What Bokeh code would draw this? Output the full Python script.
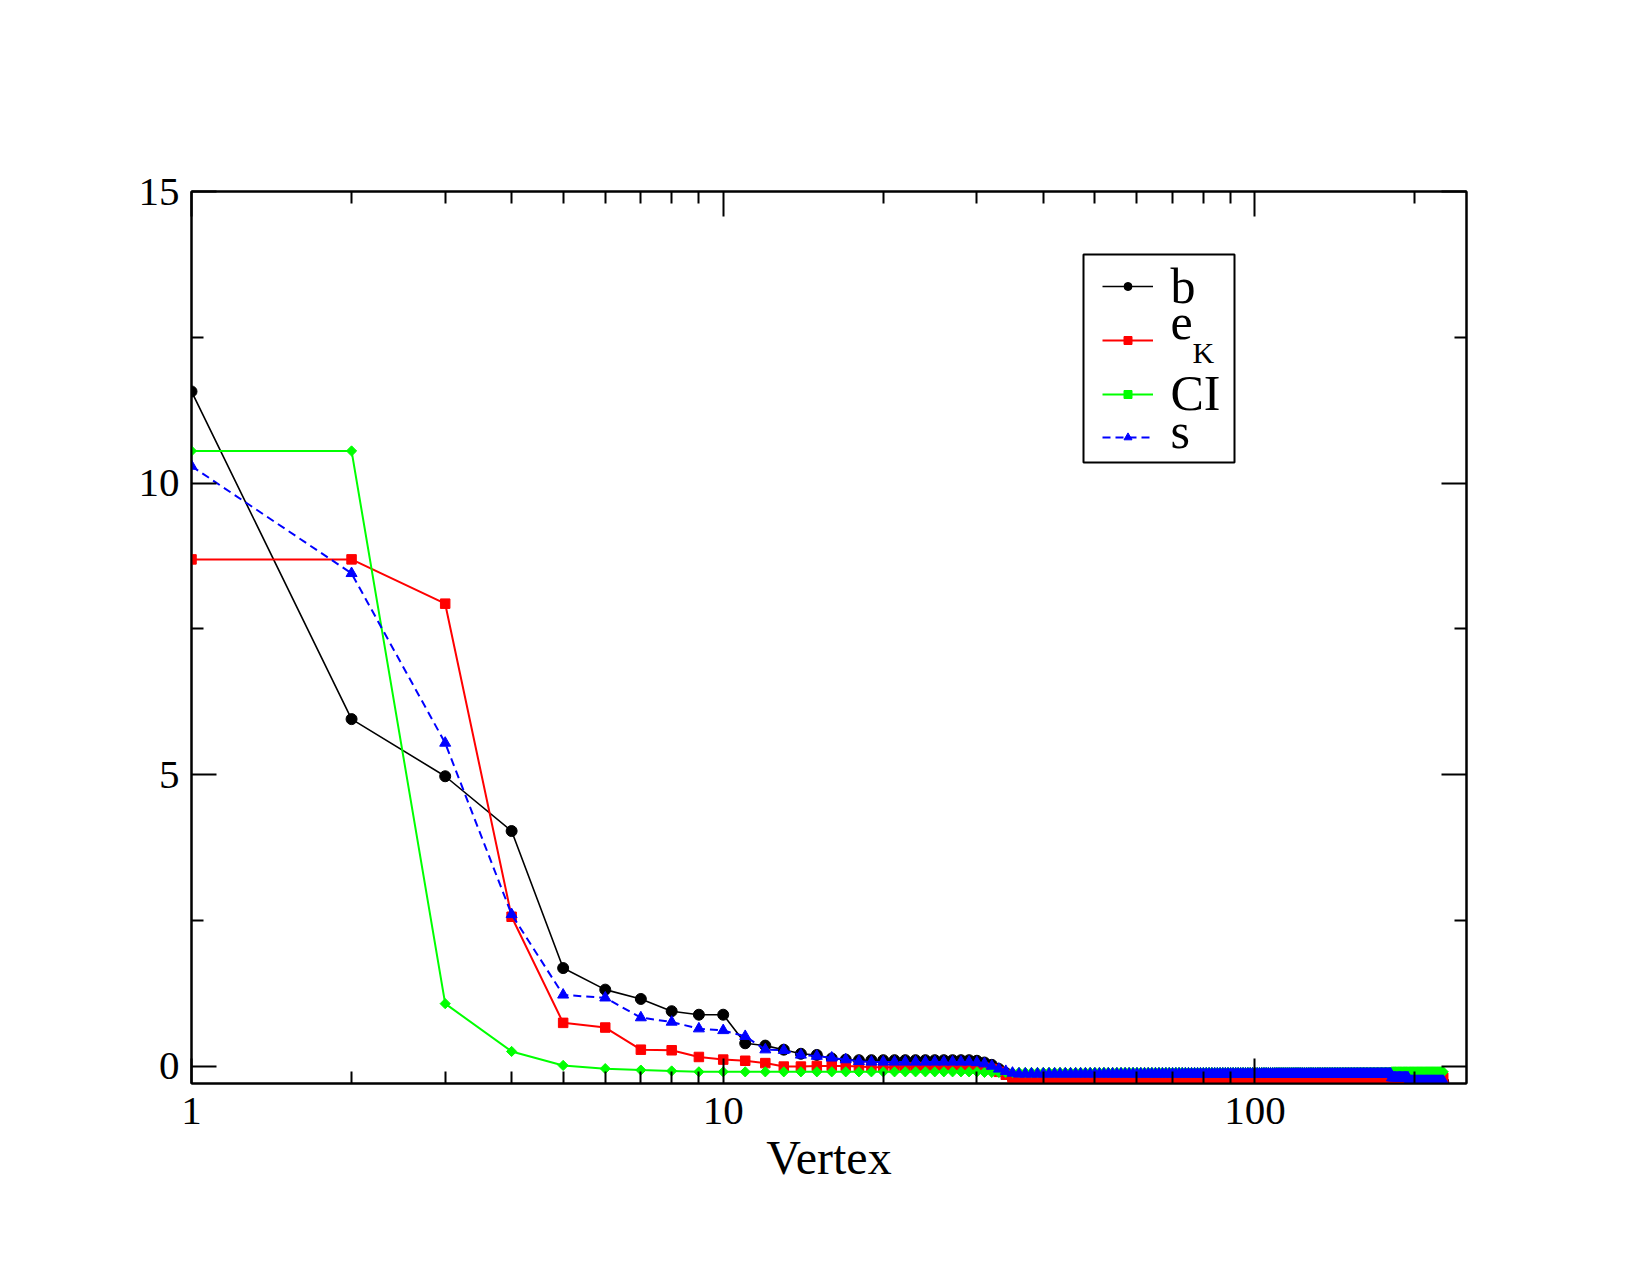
from bokeh.plotting import figure
from bokeh.models import (Range1d, LinearAxis, LogAxis, FixedTicker, Legend, LegendItem,
                          Label, NumeralTickFormatter, CustomJSTickFormatter, BoxAnnotation)
from bokeh.embed import file_html
from bokeh.resources import INLINE
import math

vertex = list(range(1, 227))

b_vals = [
    11.57, 5.95, 4.97, 4.03, 1.68, 1.31, 1.15, 0.94, 0.88, 0.88,
    0.39, 0.35, 0.28, 0.21, 0.19, 0.13, 0.11, 0.10, 0.10, 0.10,
    0.10, 0.10, 0.10, 0.10, 0.10, 0.10, 0.10, 0.10, 0.10, 0.09,
    0.06, 0.02, -0.05, -0.12, -0.20, -0.25, -0.26, -0.27, -0.27, -0.27,
    -0.27, -0.27, -0.27, -0.27, -0.27, -0.27, -0.27, -0.27, -0.27, -0.27,
    -0.27, -0.27, -0.27, -0.27, -0.27, -0.27, -0.27, -0.27, -0.27, -0.27,
    -0.27, -0.27, -0.27, -0.27, -0.27, -0.27, -0.27, -0.27, -0.27, -0.27,
    -0.27, -0.27, -0.27, -0.27, -0.27, -0.27, -0.27, -0.27, -0.27, -0.27,
    -0.27, -0.27, -0.27, -0.27, -0.27, -0.27, -0.27, -0.27, -0.27, -0.27,
    -0.27, -0.27, -0.27, -0.27, -0.27, -0.27, -0.27, -0.27, -0.27, -0.27,
    -0.27, -0.27, -0.27, -0.27, -0.27, -0.27, -0.27, -0.27, -0.27, -0.27,
    -0.27, -0.27, -0.27, -0.27, -0.27, -0.27, -0.27, -0.27, -0.27, -0.27,
    -0.27, -0.27, -0.27, -0.27, -0.27, -0.27, -0.27, -0.27, -0.27, -0.27,
    -0.27, -0.27, -0.27, -0.27, -0.27, -0.27, -0.27, -0.27, -0.27, -0.27,
    -0.27, -0.27, -0.27, -0.27, -0.27, -0.27, -0.27, -0.27, -0.27, -0.27,
    -0.27, -0.27, -0.27, -0.27, -0.27, -0.27, -0.27, -0.27, -0.27, -0.27,
    -0.27, -0.27, -0.27, -0.27, -0.27, -0.27, -0.27, -0.27, -0.27, -0.27,
    -0.27, -0.27, -0.27, -0.27, -0.27, -0.27, -0.27, -0.27, -0.27, -0.27,
    -0.27, -0.27, -0.27, -0.27, -0.27, -0.27, -0.27, -0.27, -0.27, -0.27,
    -0.27, -0.27, -0.27, -0.27, -0.27, -0.27, -0.27, -0.27, -0.27, -0.27,
    -0.27, -0.27, -0.27, -0.27, -0.27, -0.27, -0.27, -0.27, -0.27, -0.27,
    -0.27, -0.27, -0.27, -0.27, -0.27, -0.27, -0.27, -0.27, -0.27, -0.27,
    -0.27, -0.27, -0.27, -0.27, -0.27, -0.27,
]

ek_vals = [
    8.69, 8.69, 7.93, 2.56, 0.74, 0.66, 0.28, 0.27, 0.155, 0.11,
    0.09, 0.05, -0.01, -0.01, 0.00, 0.00, 0.00, -0.01, -0.02, -0.02,
    -0.02, -0.02, -0.02, -0.02, -0.02, -0.02, -0.02, -0.02, -0.02, -0.02,
    -0.03, -0.05, -0.10, -0.15, -0.20, -0.22, -0.235, -0.235, -0.235, -0.235,
    -0.235, -0.235, -0.235, -0.235, -0.235, -0.235, -0.235, -0.235, -0.235, -0.235,
    -0.235, -0.235, -0.235, -0.235, -0.235, -0.235, -0.235, -0.235, -0.235, -0.235,
    -0.235, -0.235, -0.235, -0.235, -0.235, -0.235, -0.235, -0.235, -0.235, -0.235,
    -0.235, -0.235, -0.235, -0.235, -0.235, -0.235, -0.235, -0.235, -0.235, -0.235,
    -0.235, -0.235, -0.235, -0.235, -0.235, -0.235, -0.235, -0.235, -0.235, -0.235,
    -0.235, -0.235, -0.235, -0.235, -0.235, -0.235, -0.235, -0.235, -0.235, -0.235,
    -0.235, -0.235, -0.235, -0.235, -0.235, -0.235, -0.235, -0.235, -0.235, -0.235,
    -0.235, -0.235, -0.235, -0.235, -0.235, -0.235, -0.235, -0.235, -0.235, -0.235,
    -0.235, -0.235, -0.235, -0.235, -0.235, -0.235, -0.235, -0.235, -0.235, -0.235,
    -0.235, -0.235, -0.235, -0.235, -0.235, -0.235, -0.235, -0.235, -0.235, -0.235,
    -0.235, -0.235, -0.235, -0.235, -0.235, -0.235, -0.235, -0.235, -0.235, -0.235,
    -0.235, -0.235, -0.235, -0.235, -0.235, -0.235, -0.235, -0.235, -0.235, -0.235,
    -0.235, -0.235, -0.235, -0.235, -0.235, -0.235, -0.235, -0.235, -0.235, -0.235,
    -0.235, -0.235, -0.235, -0.235, -0.235, -0.235, -0.235, -0.235, -0.235, -0.235,
    -0.235, -0.235, -0.235, -0.235, -0.235, -0.235, -0.235, -0.235, -0.235, -0.235,
    -0.235, -0.235, -0.235, -0.235, -0.235, -0.235, -0.235, -0.235, -0.235, -0.235,
    -0.235, -0.235, -0.235, -0.235, -0.235, -0.235, -0.235, -0.235, -0.235, -0.235,
    -0.235, -0.235, -0.235, -0.235, -0.235, -0.235, -0.235, -0.235, -0.235, -0.235,
    -0.235, -0.235, -0.235, -0.235, -0.235, -0.20,
]

ci_vals = [
    10.55, 10.55, 1.07, 0.25, 0.01, -0.045, -0.07, -0.085, -0.10, -0.10,
    -0.10, -0.10, -0.10, -0.10, -0.10, -0.10, -0.10, -0.10, -0.10, -0.10,
    -0.10, -0.10, -0.10, -0.10, -0.10, -0.10, -0.10, -0.10, -0.10, -0.10,
    -0.11, -0.11, -0.11, -0.11, -0.11, -0.11, -0.11, -0.11, -0.11, -0.11,
    -0.11, -0.11, -0.11, -0.11, -0.11, -0.11, -0.11, -0.11, -0.11, -0.11,
    -0.11, -0.11, -0.11, -0.11, -0.11, -0.11, -0.11, -0.11, -0.11, -0.11,
    -0.11, -0.11, -0.11, -0.11, -0.11, -0.11, -0.11, -0.11, -0.11, -0.11,
    -0.11, -0.11, -0.11, -0.11, -0.11, -0.11, -0.11, -0.11, -0.11, -0.11,
    -0.11, -0.11, -0.11, -0.11, -0.11, -0.11, -0.11, -0.11, -0.11, -0.11,
    -0.11, -0.11, -0.11, -0.11, -0.11, -0.11, -0.11, -0.11, -0.11, -0.11,
    -0.11, -0.11, -0.11, -0.11, -0.11, -0.11, -0.11, -0.11, -0.11, -0.11,
    -0.11, -0.11, -0.11, -0.11, -0.11, -0.11, -0.11, -0.11, -0.11, -0.11,
    -0.11, -0.11, -0.11, -0.11, -0.11, -0.11, -0.11, -0.11, -0.11, -0.11,
    -0.11, -0.11, -0.11, -0.11, -0.11, -0.11, -0.11, -0.11, -0.11, -0.11,
    -0.11, -0.11, -0.11, -0.11, -0.11, -0.11, -0.11, -0.11, -0.11, -0.11,
    -0.11, -0.11, -0.11, -0.11, -0.11, -0.11, -0.11, -0.11, -0.11, -0.11,
    -0.11, -0.11, -0.11, -0.11, -0.11, -0.11, -0.11, -0.11, -0.11, -0.11,
    -0.11, -0.11, -0.11, -0.11, -0.11, -0.11, -0.11, -0.11, -0.11, -0.11,
    -0.10, -0.10, -0.10, -0.10, -0.10, -0.10, -0.10, -0.10, -0.10, -0.10,
    -0.10, -0.10, -0.10, -0.10, -0.10, -0.10, -0.10, -0.10, -0.10, -0.10,
    -0.10, -0.10, -0.10, -0.10, -0.10, -0.10, -0.10, -0.10, -0.10, -0.10,
    -0.10, -0.10, -0.10, -0.10, -0.10, -0.10, -0.10, -0.10, -0.10, -0.10,
    -0.10, -0.10, -0.10, -0.10, -0.10, -0.10,
]

s_vals = [
    10.29, 8.45, 5.54, 2.60, 1.22, 1.17, 0.83, 0.755, 0.64, 0.61,
    0.51, 0.28, 0.27, 0.19, 0.17, 0.14, 0.11, 0.08, 0.07, 0.07,
    0.07, 0.07, 0.07, 0.07, 0.07, 0.07, 0.07, 0.07, 0.07, 0.06,
    0.04, 0.00, -0.05, -0.09, -0.12, -0.135, -0.135, -0.135, -0.135, -0.135,
    -0.135, -0.135, -0.135, -0.135, -0.135, -0.135, -0.135, -0.135, -0.135, -0.135,
    -0.135, -0.135, -0.135, -0.135, -0.135, -0.135, -0.135, -0.135, -0.135, -0.135,
    -0.135, -0.135, -0.135, -0.135, -0.135, -0.135, -0.135, -0.135, -0.135, -0.135,
    -0.135, -0.135, -0.135, -0.135, -0.135, -0.135, -0.135, -0.135, -0.135, -0.135,
    -0.135, -0.135, -0.135, -0.135, -0.135, -0.135, -0.135, -0.135, -0.135, -0.135,
    -0.135, -0.135, -0.135, -0.135, -0.135, -0.135, -0.135, -0.135, -0.135, -0.135,
    -0.135, -0.135, -0.135, -0.135, -0.135, -0.135, -0.135, -0.135, -0.135, -0.135,
    -0.135, -0.135, -0.135, -0.135, -0.135, -0.135, -0.135, -0.135, -0.135, -0.135,
    -0.135, -0.135, -0.135, -0.135, -0.135, -0.135, -0.135, -0.135, -0.135, -0.135,
    -0.135, -0.135, -0.135, -0.135, -0.135, -0.135, -0.135, -0.135, -0.135, -0.135,
    -0.135, -0.135, -0.135, -0.135, -0.135, -0.135, -0.135, -0.135, -0.135, -0.135,
    -0.135, -0.135, -0.135, -0.135, -0.135, -0.135, -0.135, -0.135, -0.135, -0.135,
    -0.135, -0.135, -0.135, -0.135, -0.135, -0.135, -0.135, -0.135, -0.135, -0.135,
    -0.135, -0.135, -0.135, -0.135, -0.135, -0.135, -0.135, -0.135, -0.135, -0.135,
    -0.20, -0.20, -0.20, -0.20, -0.20, -0.20, -0.20, -0.20, -0.20, -0.20,
    -0.20, -0.20, -0.20, -0.20, -0.26, -0.26, -0.26, -0.26, -0.26, -0.26,
    -0.26, -0.26, -0.26, -0.26, -0.26, -0.26, -0.26, -0.26, -0.26, -0.26,
    -0.26, -0.26, -0.26, -0.26, -0.26, -0.26, -0.26, -0.26, -0.26, -0.26,
    -0.26, -0.26, -0.26, -0.26, -0.26, -0.26,
]

for arr in (b_vals, ek_vals, ci_vals, s_vals):
    assert len(arr) == len(vertex), len(arr)

series_names = ["b", "e", "CI", "s"]
subscript_e = "K"

x_major = [1, 10, 100]
x_minor = [2, 3, 4, 5, 6, 7, 8, 9, 20, 30, 40, 50, 60, 70, 80, 90, 200]
y_major = [0, 5, 10, 15]
y_minor = [2.5, 7.5, 12.5]

SERIF = "Liberation Serif"

p = figure(width=1650, height=1275, x_axis_type="log",
           x_range=Range1d(1, 250), y_range=Range1d(-0.3, 15),
           output_backend="svg", toolbar_location=None,
           min_border_left=191, min_border_right=184,
           min_border_top=191, min_border_bottom=192)
p.background_fill_color = "white"
p.border_fill_color = "white"
p.outline_line_color = "black"
p.outline_line_width = 2
p.xgrid.visible = False
p.ygrid.visible = False

bottom_axis = p.below[0]
left_axis = p.left[0]
top_axis = LogAxis()
right_axis = LinearAxis()
p.add_layout(top_axis, "above")
p.add_layout(right_axis, "right")

blank = CustomJSTickFormatter(code="return '';")

for ax, ticks, minors in ((bottom_axis, x_major, x_minor), (top_axis, x_major, x_minor),
                          (left_axis, y_major, y_minor), (right_axis, y_major, y_minor)):
    ax.ticker = FixedTicker(ticks=ticks, minor_ticks=minors)
    ax.major_tick_in = 25
    ax.major_tick_out = 0
    ax.minor_tick_in = 12
    ax.minor_tick_out = 0
    ax.axis_line_width = 2
    ax.major_tick_line_width = 2
    ax.minor_tick_line_width = 2
    ax.axis_line_color = "black"
    ax.major_tick_line_color = "black"
    ax.minor_tick_line_color = "black"
    ax.major_label_text_font = SERIF
    ax.major_label_text_font_size = "41px"
    ax.major_label_text_color = "black"

top_axis.formatter = blank
right_axis.formatter = blank
bottom_axis.formatter = NumeralTickFormatter(format="0")
left_axis.formatter = NumeralTickFormatter(format="0")
bottom_axis.major_label_standoff = 14
left_axis.major_label_standoff = 12

bottom_axis.axis_label = "Vertex"
bottom_axis.axis_label_text_font = SERIF
bottom_axis.axis_label_text_font_size = "48px"
bottom_axis.axis_label_text_font_style = "normal"
bottom_axis.axis_label_text_color = "black"
bottom_axis.axis_label_standoff = 4

# series
b_line = p.line(vertex, b_vals, line_color="black", line_width=1.6)
b_pts = p.scatter(vertex, b_vals, marker="circle", size=11, fill_color="black", line_color="black")

ek_line = p.line(vertex, ek_vals, line_color="#ff0000", line_width=2)
ek_pts = p.scatter(vertex, ek_vals, marker="square", size=9.5, fill_color="#ff0000", line_color="#ff0000")

ci_line = p.line(vertex, ci_vals, line_color="#00ff00", line_width=2)
ci_pts = p.scatter(vertex, ci_vals, marker="square", angle=math.pi / 4, size=7.2,
                   fill_color="#00ff00", line_color="#00ff00")

s_line = p.line(vertex, s_vals, line_color="#0000ff", line_width=2, line_dash="8 5")
s_pts = p.scatter(vertex, s_vals, marker="triangle", size=11, fill_color="#0000ff", line_color="#0000ff")

# legend frame (frame-relative screen units, y measured from the frame bottom)
legend_box = BoxAnnotation(left=892, right=1043, top=829, bottom=621,
                           left_units="screen", right_units="screen",
                           top_units="screen", bottom_units="screen",
                           fill_color="white", fill_alpha=1.0,
                           line_color="black", line_width=2, line_alpha=1.0)
p.add_layout(legend_box)


def swatch_legend(items, loc, row_h):
    lg = Legend(items=items, location=loc)
    lg.margin = 0
    lg.padding = 0
    lg.spacing = 0
    lg.glyph_width = 51
    lg.glyph_height = 20
    lg.label_height = row_h
    lg.label_width = 1
    lg.label_standoff = 0
    lg.label_text_font = SERIF
    lg.label_text_font_size = "4px"
    lg.border_line_color = None
    lg.background_fill_alpha = 0.0
    return lg


# legend swatches (line + marker); the legend texts are placed as labels below
p.add_layout(swatch_legend([
    LegendItem(label=" ", renderers=[b_line, b_pts]),
    LegendItem(label=" ", renderers=[ek_line, ek_pts]),
    LegendItem(label=" ", renderers=[ci_line, ci_pts]),
], (911, 662), 54))
p.add_layout(swatch_legend([
    LegendItem(label=" ", renderers=[s_line, s_pts]),
], (911, 621), 50))

label_x = 979
label_baselines = [798, 761, 691, 653]
for name, yb in zip(series_names, label_baselines):
    p.add_layout(Label(x=label_x, y=yb, x_units="screen", y_units="screen", text=name,
                       text_font=SERIF, text_font_size="50px", text_color="black",
                       text_baseline="alphabetic", text_align="left"))

p.add_layout(Label(x=1001, y=731, x_units="screen", y_units="screen", text=subscript_e,
                   text_font=SERIF, text_font_size="30px", text_color="black",
                   text_baseline="alphabetic", text_align="left"))

open("out.html", "w").write(file_html(p, INLINE))
